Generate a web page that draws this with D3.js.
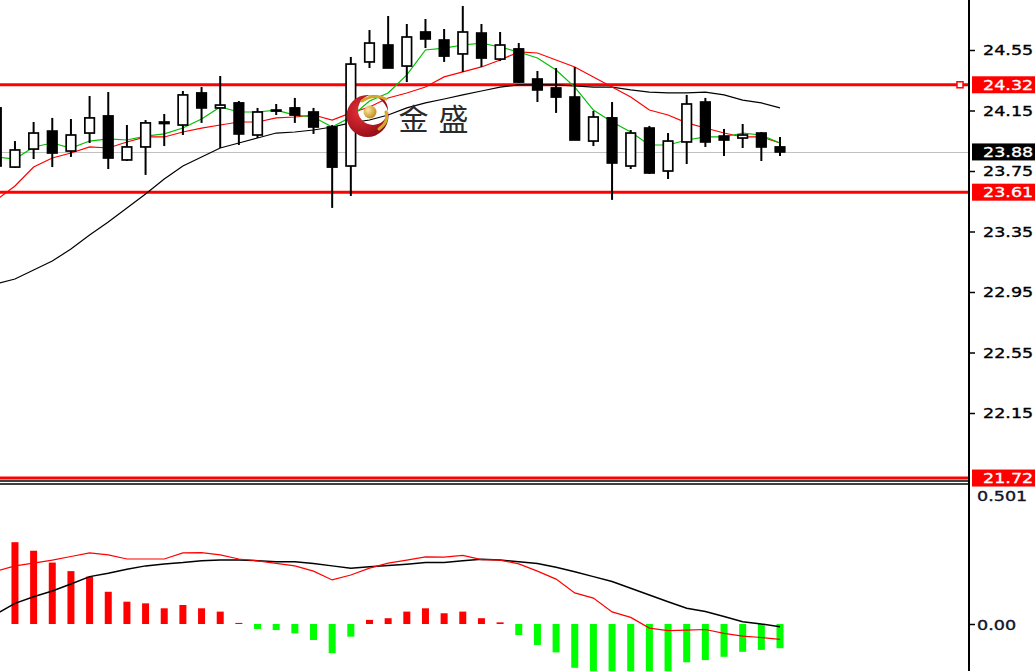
<!DOCTYPE html>
<html><head><meta charset="utf-8">
<script src="https://cdn.jsdelivr.net/npm/d3@7"></script>
<style>html,body{margin:0;padding:0;background:#fff;overflow:hidden}</style>
</head><body>
<script>
// ---- data ----
const opens  = [24.167,23.776,23.895,24.014,23.882,24.001,24.114,23.823,23.909,24.064,24.054,24.266,24.167,24.200,23.988,24.153,24.167,24.140,24.041,23.783,24.471,24.583,24.444,24.669,24.616,24.524,24.662,24.490,24.557,24.358,24.299,24.239,23.948,24.101,23.783,24.034,23.750,23.942,24.206,23.981,23.968,24.001,23.909];
const highs  = [24.193,23.948,24.074,24.101,24.094,24.246,24.272,24.054,24.087,24.127,24.279,24.305,24.378,24.213,24.167,24.193,24.233,24.167,24.054,24.504,24.682,24.775,24.722,24.755,24.689,24.841,24.722,24.669,24.596,24.411,24.431,24.438,24.147,24.206,24.021,24.048,24.001,24.253,24.233,24.028,24.061,24.008,23.975];
const lows   = [23.770,23.770,23.829,23.776,23.843,23.935,23.763,23.816,23.724,23.915,23.988,24.068,23.902,23.922,23.968,24.120,24.068,23.995,23.506,23.585,24.431,24.431,24.338,24.563,24.471,24.405,24.438,24.477,24.332,24.206,24.134,23.955,23.915,23.559,23.763,23.730,23.697,23.796,23.909,23.849,23.902,23.816,23.849];
const closes = [23.783,23.889,24.001,23.869,23.988,24.101,23.836,23.909,24.068,24.074,24.253,24.167,24.186,23.995,24.140,24.150,24.120,24.041,23.776,24.457,24.596,24.431,24.636,24.623,24.510,24.669,24.497,24.583,24.338,24.286,24.239,23.955,24.107,23.803,24.001,23.737,23.948,24.193,23.942,23.955,23.988,23.909,23.876];
const maFast = [23.843,23.829,23.909,23.935,23.902,23.948,23.962,23.955,23.981,23.995,24.034,24.094,24.173,24.140,24.140,24.153,24.120,24.107,24.041,24.107,24.213,24.266,24.385,24.550,24.563,24.583,24.596,24.570,24.537,24.497,24.418,24.305,24.153,24.074,24.008,23.922,23.922,23.955,23.975,23.975,24.001,23.988,23.935];
const maMid  = [23.559,23.651,23.776,23.836,23.869,23.909,23.902,23.942,23.975,23.975,24.008,24.034,24.054,24.074,24.074,24.101,24.107,24.120,24.087,24.134,24.173,24.233,24.266,24.305,24.372,24.405,24.438,24.484,24.537,24.530,24.484,24.438,24.372,24.305,24.239,24.153,24.120,24.068,24.034,24.001,23.975,23.975,23.935];
const maSlow = [23.003,23.036,23.095,23.155,23.234,23.327,23.413,23.506,23.598,23.697,23.783,23.843,23.902,23.935,23.968,24.001,24.008,24.021,24.041,24.068,24.087,24.120,24.167,24.200,24.226,24.253,24.279,24.305,24.319,24.319,24.319,24.312,24.305,24.305,24.286,24.272,24.266,24.266,24.272,24.253,24.219,24.200,24.167];
const macdHist  = [0.334,0.297,0.266,0.223,0.192,0.172,0.117,0.081,0.075,0.057,0.069,0.057,0.045,0.004,-0.018,-0.022,-0.034,-0.058,-0.106,-0.046,0.015,0.021,0.045,0.057,0.039,0.045,0.021,0.006,-0.040,-0.076,-0.103,-0.159,-0.19,-0.21,-0.22,-0.21,-0.19,-0.139,-0.131,-0.119,-0.101,-0.094,-0.088];
const macdRed   = [0.192,0.211,0.221,0.232,0.245,0.258,0.251,0.236,0.236,0.236,0.258,0.259,0.251,0.236,0.229,0.220,0.211,0.192,0.160,0.178,0.203,0.221,0.232,0.244,0.243,0.249,0.234,0.232,0.218,0.192,0.163,0.113,0.094,0.044,0.024,-0.015,-0.024,-0.022,-0.020,-0.034,-0.044,-0.049,-0.056];
const macdBlack = [0.036,0.075,0.099,0.120,0.145,0.172,0.184,0.199,0.211,0.218,0.223,0.230,0.232,0.232,0.230,0.226,0.226,0.220,0.211,0.202,0.208,0.212,0.217,0.223,0.223,0.230,0.235,0.232,0.226,0.220,0.206,0.190,0.172,0.154,0.130,0.105,0.081,0.057,0.045,0.027,0.008,0.000,-0.010];
const priceTicks = [24.55,24.15,23.75,23.35,22.95,22.55,22.15];
const levelLines = [24.32,23.61,21.72];
const lastPrice = 23.876;
const macdTicks = [0.501,0.00];
const macdTickLabels = ["0.501","0.00"];
const logoChars = ["金","盛"];

// ---- layout ----
const W=1035,H=671, axisX=969, plotR=968, mainBottom=480, macdTop=485;
const svg=d3.select("body").append("svg").attr("width",W).attr("height",H).style("display","block");
svg.append("rect").attr("width",W).attr("height",H).attr("fill","#fff");
const defs=svg.append("defs");
defs.append("clipPath").attr("id","cm").append("rect").attr("x",0).attr("y",0).attr("width",plotR).attr("height",mainBottom);
defs.append("clipPath").attr("id","cd").append("rect").attr("x",0).attr("y",macdTop).attr("width",plotR).attr("height",H-macdTop);
const rg=defs.append("radialGradient").attr("id","redg").attr("cx","35%").attr("cy","40%").attr("r","70%");
rg.append("stop").attr("offset","0%").attr("stop-color","#e8303a");
rg.append("stop").attr("offset","100%").attr("stop-color","#8e0a12");
const gg=defs.append("radialGradient").attr("id","goldg").attr("cx","35%").attr("cy","35%").attr("r","70%");
gg.append("stop").attr("offset","0%").attr("stop-color","#fbe7a0");
gg.append("stop").attr("offset","100%").attr("stop-color","#c08a1a");

const idx=d3.range(closes.length);
const x=d3.scaleLinear().domain([0,42]).range([-3.7,780]);
const y=d3.scaleLinear().domain([24.55,22.15]).range([50,413]);
const ym=d3.scaleLinear().domain([0.501,0]).range([486,624]);

const main=svg.append("g").attr("clip-path","url(#cm)");
main.append("line").attr("x1",0).attr("x2",plotR).attr("y1",Math.round(y(lastPrice))+0.5).attr("y2",Math.round(y(lastPrice))+0.5).attr("stroke","#c0c0c0").attr("stroke-width",1);
main.selectAll(".lvl").data(levelLines).enter().append("line")
  .attr("x1",0).attr("x2",plotR).attr("y1",d=>y(d)).attr("y2",d=>y(d))
  .attr("stroke","#ff0000").attr("stroke-width",3);
main.append("rect").attr("x",957).attr("y",y(levelLines[0])-3).attr("width",6).attr("height",6)
  .attr("fill","#fff").attr("stroke","#ff0000").attr("stroke-width",1.5);

const mline=d3.line().x((d,i)=>x(i)).y(d=>y(d));
main.append("path").datum(maSlow).attr("d",mline).attr("fill","none").attr("stroke","#000").attr("stroke-width",1.2);
main.append("path").datum(maMid).attr("d",mline).attr("fill","none").attr("stroke","#ff0000").attr("stroke-width",1.2);
main.append("path").datum(maFast).attr("d",mline).attr("fill","none").attr("stroke","#00c000").attr("stroke-width",1.2);

const cg=main.selectAll(".c").data(idx).enter().append("g");
cg.append("line").attr("x1",i=>x(i)).attr("x2",i=>x(i)).attr("y1",i=>y(highs[i])).attr("y2",i=>y(lows[i]))
  .attr("stroke","#000").attr("stroke-width",2);
cg.append("rect").attr("x",i=>x(i)-4.75).attr("width",9.5)
  .attr("y",i=>y(Math.max(opens[i],closes[i])))
  .attr("height",i=>Math.max(1,Math.abs(y(opens[i])-y(closes[i]))))
  .attr("fill",i=>closes[i]>=opens[i]?"#fff":"#000")
  .attr("stroke","#000").attr("stroke-width",1.7);

// logo
const lg=main.append("g");
lg.append("path").attr("fill-rule","evenodd").attr("fill","url(#redg)")
  .attr("d","M388.5,116 A21,21 0 1,1 346.5,116 A21,21 0 1,1 388.5,116 Z M388,110 A15,15 0 1,0 358,110 A15,15 0 1,0 388,110 Z");
lg.append("circle").attr("cx",370).attr("cy",112).attr("r",6.5).attr("fill","url(#goldg)");
lg.append("path").attr("d","M362,101 Q374,93 386,99").attr("fill","none").attr("stroke","#d4a62a").attr("stroke-width",3).attr("stroke-linecap","round");
lg.append("path").attr("d","M386,112 Q389,122 379,129").attr("fill","none").attr("stroke","#d4a62a").attr("stroke-width",3).attr("stroke-linecap","round");
lg.selectAll(".lt").data(logoChars).enter().append("text")
  .attr("x",(d,i)=>413.5+i*40).attr("y",117).attr("text-anchor","middle").attr("dominant-baseline","central")
  .attr("font-family","'Noto Sans CJK SC','Noto Sans CJK JP',sans-serif").attr("font-size",30).attr("fill","#2a2a2a")
  .text(d=>d);

// MACD panel
const md=svg.append("g").attr("clip-path","url(#cd)");
md.selectAll(".h").data(idx).enter().append("rect")
  .attr("x",i=>x(i)-3.5).attr("width",7)
  .attr("y",i=>ym(Math.max(0,macdHist[i])))
  .attr("height",i=>Math.max(1,Math.abs(ym(macdHist[i])-ym(0))))
  .attr("fill",i=>macdHist[i]>=0?"#ff0000":"#00ff00");
const dline=d3.line().x((d,i)=>x(i)).y(d=>ym(d));
md.append("path").datum(macdBlack).attr("d",dline).attr("fill","none").attr("stroke","#000").attr("stroke-width",1.5);
md.append("path").datum(macdRed).attr("d",dline).attr("fill","none").attr("stroke","#ff0000").attr("stroke-width",1.2);

svg.append("line").attr("x1",0).attr("x2",axisX).attr("y1",481).attr("y2",481).attr("stroke","#000").attr("stroke-width",1.5);
svg.append("line").attr("x1",0).attr("x2",axisX).attr("y1",484).attr("y2",484).attr("stroke","#000").attr("stroke-width",1.5);
svg.append("line").attr("x1",axisX).attr("x2",axisX).attr("y1",0).attr("y2",H).attr("stroke","#000").attr("stroke-width",2);

const FONT="'DejaVu Sans',Verdana,sans-serif";
const ax=svg.append("g").attr("transform",`translate(${axisX},0)`)
  .call(d3.axisRight(y).tickValues(priceTicks).tickSize(6).tickFormat(d3.format(".2f")));
ax.select(".domain").remove();
ax.selectAll(".tick line").attr("stroke","#000").attr("stroke-width",1.5);
ax.selectAll(".tick text").attr("x",0).attr("dy","0.36em").attr("transform","translate(14,0) scale(1.3,1)")
  .attr("font-family",FONT).attr("font-size",13.5).attr("fill","#000").attr("stroke","#000").attr("stroke-width",0.35);

const boxes=[...levelLines.map(v=>({v,fill:"#ff0000"})),{v:lastPrice,fill:"#000"}];
const bg=svg.selectAll(".bx").data(boxes).enter().append("g").attr("transform",d=>`translate(972,${y(d.v)})`);
bg.append("rect").attr("x",0).attr("y",-8.5).attr("width",W-972).attr("height",17).attr("fill",d=>d.fill);
bg.append("text").attr("x",0).attr("dy","0.36em").attr("transform","translate(11,0) scale(1.3,1)")
  .attr("font-family",FONT).attr("font-size",13.5).attr("fill","#fff").attr("stroke","#fff").attr("stroke-width",0.3)
  .text(d=>d3.format(".2f")(d.v));

const mx=svg.append("g").attr("transform",`translate(${axisX},0)`)
  .call(d3.axisRight(ym).tickValues(macdTicks).tickSize(6).tickFormat((d,i)=>macdTickLabels[i]));
mx.select(".domain").remove();
mx.selectAll(".tick line").attr("stroke","#000").attr("stroke-width",1.5).attr("opacity",(d,i)=>i===0?0:1);
mx.selectAll(".tick text").attr("x",0).attr("dy","0.36em")
  .attr("transform",(d,i)=>i===0?"translate(8,10) scale(1.3,1)":"translate(8,1) scale(1.3,1)")
  .attr("font-family",FONT).attr("font-size",13.5).attr("fill","#10142a").attr("stroke","#10142a").attr("stroke-width",0.35);
</script>
</body></html>
